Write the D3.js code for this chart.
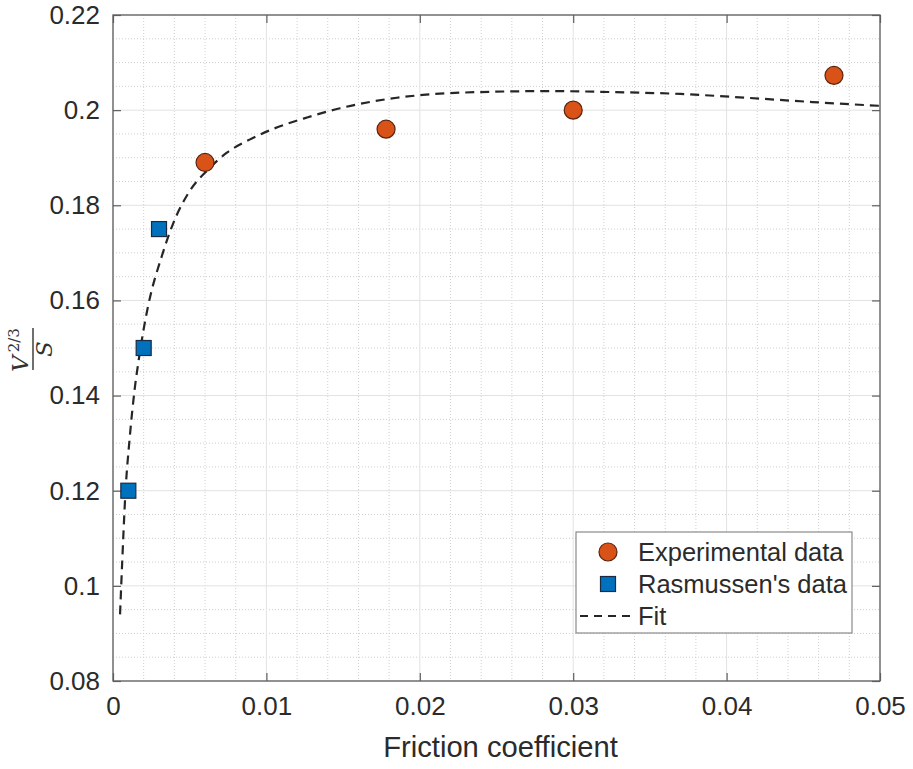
<!DOCTYPE html>
<html>
<head>
<meta charset="utf-8">
<script src="https://cdn.jsdelivr.net/npm/d3@7"></script>
<style>
  html, body { margin: 0; padding: 0; background: #fff; }
  svg { display: block; }
</style>
</head>
<body>
<svg id="chart" width="913" height="769"></svg>
<script>
// ---- data ----
const expX = [0.006, 0.0178, 0.030, 0.047];
const expY = [0.189, 0.196, 0.200, 0.2073];
const rasX = [0.001, 0.002, 0.003];
const rasY = [0.120, 0.150, 0.175];
const fitX = [0.00046, 0.0006, 0.0008, 0.0011, 0.0014, 0.0017, 0.0020, 0.0023, 0.0032, 0.0039,
              0.0050, 0.0062, 0.0074, 0.0089, 0.0104, 0.0127, 0.0148, 0.0185, 0.0202, 0.0239,
              0.0283, 0.0326, 0.0370, 0.0413, 0.0456, 0.0500];
const fitY = [0.0940, 0.1050, 0.1190, 0.1315, 0.1410, 0.1480, 0.1540, 0.1590, 0.1695, 0.1760,
              0.1830, 0.1875, 0.1910, 0.1938, 0.1960, 0.1985, 0.2004, 0.2026, 0.2032, 0.2038,
              0.2040, 0.2038, 0.2034, 0.2026, 0.2017, 0.2009];
const xTicks = [0, 0.01, 0.02, 0.03, 0.04, 0.05];
const xTickLabels = ["0", "0.01", "0.02", "0.03", "0.04", "0.05"];
const yTicks = [0.08, 0.10, 0.12, 0.14, 0.16, 0.18, 0.20, 0.22];
const yTickLabels = ["0.08", "0.1", "0.12", "0.14", "0.16", "0.18", "0.2", "0.22"];
const legendLabels = ["Experimental data", "Rasmussen's data", "Fit"];
const xLabel = "Friction coefficient";

// ---- layout ----
const L = 113, R = 880, T = 15, B = 681;
const svg = d3.select("#chart");
const x = d3.scaleLinear().domain([0, 0.05]).range([L, R]);
const y = d3.scaleLinear().domain([0.08, 0.22]).range([B, T]);

const axisColor = "#5e5e5e";
const textColor = "#2b2b2b";
const font = "'Liberation Sans', Arial, Helvetica, sans-serif";

// grid
const g = svg.append("g");
const xMinor = d3.range(0, 0.05001, 0.002).filter(v => Math.abs(v / 0.01 - Math.round(v / 0.01)) > 1e-6);
const yMinor = d3.range(0.08, 0.22001, 0.005).filter(v => Math.abs(v / 0.02 - Math.round(v / 0.02)) > 1e-6);
g.selectAll(".xminor").data(xMinor).enter().append("line")
  .attr("x1", d => x(d)).attr("x2", d => x(d)).attr("y1", T).attr("y2", B)
  .attr("stroke", "#cfcfcf").attr("stroke-width", 1).attr("stroke-dasharray", "1,2");
g.selectAll(".yminor").data(yMinor).enter().append("line")
  .attr("y1", d => y(d)).attr("y2", d => y(d)).attr("x1", L).attr("x2", R)
  .attr("stroke", "#cfcfcf").attr("stroke-width", 1).attr("stroke-dasharray", "1,2");
g.selectAll(".xmajor").data(xTicks).enter().append("line")
  .attr("x1", d => x(d)).attr("x2", d => x(d)).attr("y1", T).attr("y2", B)
  .attr("stroke", "#e2e2e2").attr("stroke-width", 1);
g.selectAll(".ymajor").data(yTicks).enter().append("line")
  .attr("y1", d => y(d)).attr("y2", d => y(d)).attr("x1", L).attr("x2", R)
  .attr("stroke", "#e2e2e2").attr("stroke-width", 1);

// axes via d3 axis (inside ticks)
const tickLen = 8;
function styleAxis(sel) {
  sel.select(".domain").remove();
  sel.selectAll(".tick line").attr("stroke", axisColor).attr("stroke-width", 1.2);
  sel.selectAll(".tick text").attr("fill", textColor).style("font-family", font).style("font-size", "26px");
}
const xAxisB = d3.axisBottom(x).tickValues(xTicks).tickFormat((d, i) => xTickLabels[i])
  .tickSizeInner(-tickLen).tickSizeOuter(0).tickPadding(16);
svg.append("g").attr("transform", `translate(0,${B})`).call(xAxisB).call(styleAxis);
const xAxisT = d3.axisTop(x).tickValues(xTicks).tickFormat("").tickSizeInner(-tickLen).tickSizeOuter(0);
svg.append("g").attr("transform", `translate(0,${T})`).call(xAxisT).call(styleAxis);
const yAxisL = d3.axisLeft(y).tickValues(yTicks).tickFormat((d, i) => yTickLabels[i])
  .tickSizeInner(-tickLen).tickSizeOuter(0).tickPadding(13);
svg.append("g").attr("transform", `translate(${L},0)`).call(yAxisL).call(styleAxis);
const yAxisR = d3.axisRight(y).tickValues(yTicks).tickFormat("").tickSizeInner(-tickLen).tickSizeOuter(0);
svg.append("g").attr("transform", `translate(${R},0)`).call(yAxisR).call(styleAxis);

// box
svg.append("rect").attr("x", L).attr("y", T).attr("width", R - L).attr("height", B - T)
  .attr("fill", "none").attr("stroke", axisColor).attr("stroke-width", 1.3);

// clip
svg.append("clipPath").attr("id", "clip").append("rect")
  .attr("x", L).attr("y", T).attr("width", R - L).attr("height", B - T);

// fit line
const fitData = fitX.map((v, i) => [v, fitY[i]]);
svg.append("path").datum(fitData)
  .attr("clip-path", "url(#clip)")
  .attr("fill", "none").attr("stroke", "#262626").attr("stroke-width", 2.2)
  .attr("stroke-dasharray", "9,6")
  .attr("d", d3.line().x(d => x(d[0])).y(d => y(d[1])).curve(d3.curveMonotoneX));

// experimental circles
const expData = expX.map((v, i) => [v, expY[i]]);
svg.selectAll(".exp").data(expData).enter().append("circle")
  .attr("cx", d => x(d[0])).attr("cy", d => y(d[1])).attr("r", 9)
  .attr("fill", "#D95319").attr("stroke", "#5a2410").attr("stroke-width", 1.2);

// Rasmussen squares
const rasData = rasX.map((v, i) => [v, rasY[i]]);
const sq = 15;
svg.selectAll(".ras").data(rasData).enter().append("rect")
  .attr("x", d => x(d[0]) - sq / 2).attr("y", d => y(d[1]) - sq / 2)
  .attr("width", sq).attr("height", sq)
  .attr("fill", "#0072BD").attr("stroke", "#1b2a40").attr("stroke-width", 1.2);

// x label
svg.append("text").attr("x", (L + R) / 2 + 4).attr("y", 757)
  .attr("text-anchor", "middle").attr("fill", textColor)
  .style("font-family", font).style("font-size", "29.2px").text(xLabel);

// y label: V^{2/3} / S  (rotated fraction)
const yl = svg.append("g").attr("transform", "translate(33,349) rotate(-90)");
const serif = "'DejaVu Serif', 'Liberation Serif', serif";
yl.append("line").attr("x1", -21).attr("x2", 21).attr("y1", 0).attr("y2", 0)
  .attr("stroke", "#333").attr("stroke-width", 1.4);
const num = yl.append("text").attr("x", -1).attr("y", -5).attr("text-anchor", "middle")
  .attr("fill", "#333").style("font-family", serif).style("font-style", "italic").style("font-size", "23px");
num.append("tspan").text("V");
num.append("tspan").attr("dx", 3).attr("dy", -9).style("font-size", "15px").style("font-style", "normal").text("2/3");
yl.append("text").attr("x", 0).attr("y", 19).attr("text-anchor", "middle")
  .attr("fill", "#333").style("font-family", serif).style("font-style", "italic").style("font-size", "23px")
  .text("S");

// legend
const lg = svg.append("g");
lg.append("rect").attr("x", 576).attr("y", 532).attr("width", 276).attr("height", 101)
  .attr("fill", "#fff").attr("stroke", "#8a8a8a").attr("stroke-width", 1.2);
const rowY = [552, 584, 616];
lg.append("circle").attr("cx", 608).attr("cy", rowY[0]).attr("r", 9)
  .attr("fill", "#D95319").attr("stroke", "#5a2410").attr("stroke-width", 1.2);
lg.append("rect").attr("x", 608 - 7.5).attr("y", rowY[1] - 7.5).attr("width", 15).attr("height", 15)
  .attr("fill", "#0072BD").attr("stroke", "#1b2a40").attr("stroke-width", 1.2);
lg.append("line").attr("x1", 580).attr("x2", 631).attr("y1", rowY[2]).attr("y2", rowY[2])
  .attr("stroke", "#262626").attr("stroke-width", 2).attr("stroke-dasharray", "8,6");
lg.selectAll(".lt").data(legendLabels).enter().append("text")
  .attr("x", 638).attr("y", (d, i) => rowY[i] + 9)
  .attr("fill", textColor).style("font-family", font).style("font-size", "25.5px")
  .text(d => d);
</script>
</body>
</html>
